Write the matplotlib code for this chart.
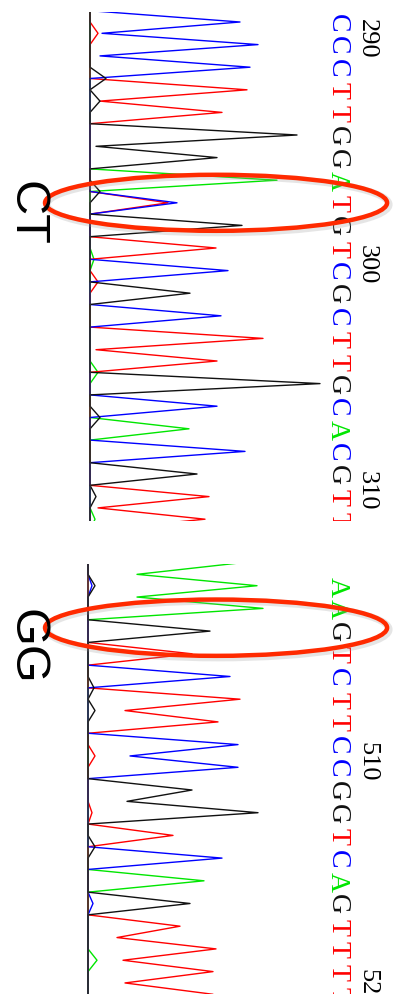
import matplotlib
matplotlib.use("Agg")
import matplotlib.pyplot as plt
import matplotlib.transforms as mtransforms
from matplotlib.patches import Ellipse

# ---- top read (CT het at 297) ----
top_seq = "CCCTTGGATGTCGCTTGCACGTT"
top_start = 289
top_ticks = [290, 300, 310]
# peak height at each base call, per dye
top_A = [0, 0, 0, 0, 0, 0, 0, 187, 0, 0, 0, 0, 0, 0, 0, 0, 0, 0, 99, 0, 0, 0, 5]
top_C = [150, 168, 160, 0, 0, 0, 0, 0, 87, 0, 0, 138, 0, 131, 0, 0, 0, 127, 0, 155, 0, 0, 0]
top_G = [0, 0, 0, 0, 0, 207, 127, 0, 0, 152, 0, 0, 100, 0, 0, 0, 230, 0, 0, 0, 107, 6, 0]
top_T = [0, 0, 0, 157, 132, 0, 0, 0, 78, 0, 126, 0, 0, 0, 173, 127, 0, 0, 0, 0, 0, 119, 115]
# signal half way between base i and i+1
top_A_mid = [0, 0, 0, 0, 0, 0, 0, 0, 0, 0, 4, 0, 0, 0, 0, 8, 0, 0, 0, 0, 0, 0]
top_C_mid = [12, 10, 0, 0, 0, 0, 0, 0, 0, 0, 0, 0, 0, 0, 0, 0, 0, 0, 0, 0, 0, 0]
top_G_mid = [0, 0, 16, 10, 0, 6, 0, 10, 0, 0, 0, 0, 0, 0, 0, 0, 0, 10, 0, 0, 0, 0]
top_T_mid = [8, 0, 0, 10, 0, 0, 0, 0, 0, 0, 0, 8, 0, 0, 6, 0, 0, 0, 0, 0, 0, 8]

# ---- bottom read (GG at 504) ----
bot_seq = "AAAGTCTTCCGGTCAGTTTT"
bot_start = 501
bot_ticks = [510, 520]
bot_A = [151, 169, 175, 0, 0, 0, 0, 0, 0, 0, 0, 0, 0, 0, 116, 0, 0, 0, 0, 0]
bot_C = [0, 4, 0, 0, 0, 142, 0, 0, 150, 150, 0, 0, 0, 134, 0, 5, 0, 0, 0, 0]
bot_G = [0, 7, 0, 122, 0, 0, 0, 0, 0, 0, 104, 170, 0, 0, 0, 102, 0, 0, 0, 0]
bot_T = [0, 0, 0, 0, 104, 0, 152, 130, 0, 0, 0, 4, 85, 0, 0, 0, 92, 128, 125, 125]
bot_A_mid = [49, 49, 0, 0, 0, 0, 0, 0, 0, 0, 0, 0, 0, 0, 0, 0, 0, 9, 0]
bot_C_mid = [0, 0, 0, 0, 0, 0, 0, 0, 42, 0, 0, 0, 0, 0, 0, 0, 0, 0, 0]
bot_G_mid = [0, 0, 0, 0, 0, 6, 7, 0, 0, 0, 39, 0, 7, 0, 0, 0, 0, 0, 0]
bot_T_mid = [0, 0, 0, 0, 0, 0, 37, 0, 7, 0, 0, 0, 0, 0, 0, 0, 29, 35, 37]

dye_colors = {"A": "#00e600", "C": "#0000ff", "G": "#111111", "T": "#ff0000"}
ring_color = "#ff2a00"


def trace(peaks, mids):
    # interleave base-call peaks with the between-base values
    pos, val = [-0.5], [0]
    for i, h in enumerate(peaks):
        pos.append(i)
        val.append(h)
        pos.append(i + 0.5)
        val.append(mids[i] if i < len(mids) else 0)
    return pos, val


def draw_read(ax, seq, start, ticks, chans, first_called, ring_base, ylims, base_px):
    ax.set_xlim(-base_px, 395 - base_px)
    ax.set_ylim(*ylims)
    ax.axis("off")
    for dye in "ATCG":
        peaks, mids = chans[dye]
        p, v = trace(peaks, mids)
        ax.plot(v, p, color=dye_colors[dye], lw=1.0, zorder=2)
    ax.axvline(0, color="#333333", lw=1.1, zorder=3)

    tr = mtransforms.blended_transform_factory(ax.transAxes, ax.transData)
    for i, b in enumerate(seq):
        if i < first_called:
            continue
        ax.text(0.855, i, b, transform=tr, rotation=-90, ha="center", va="center",
                color=dye_colors[b], fontsize=20, family="Liberation Serif", clip_on=True)
    for t in ticks:
        ax.text(0.929, t - start - 0.3, str(t), transform=tr, rotation=-90,
                ha="center", va="center", color="black", fontsize=19,
                family="Liberation Serif", clip_on=True)

    shadow = Ellipse((0.552, ring_base + 0.08), 0.866, 2.5, transform=tr, fill=False,
                     edgecolor="#999999", lw=5, alpha=0.25, zorder=4)
    ax.add_patch(shadow)
    ring = Ellipse((0.547, ring_base), 0.866, 2.48, transform=tr, fill=False,
                   edgecolor=ring_color, lw=3.2, zorder=5)
    ax.add_patch(ring)


W, H = 395, 995
fig = plt.figure(figsize=(W / 100, H / 100), dpi=100)

# top panel spans y 13..522 px, bases at 23 + 22.6*i
ax1 = fig.add_axes([0, 1 - 522 / H, 1, (522 - 13) / H])
draw_read(ax1, top_seq, top_start, top_ticks,
          {"A": (top_A, top_A_mid), "C": (top_C, top_C_mid),
           "G": (top_G, top_G_mid), "T": (top_T, top_T_mid)},
          0, 8.0, ((522 - 23) / 22.6, (13 - 23) / 22.6), 90)

# bottom panel spans y 565..995 px, bases at 564 + 22.7*i
ax2 = fig.add_axes([0, 0, 1, (995 - 565) / H])
draw_read(ax2, bot_seq, bot_start, bot_ticks,
          {"A": (bot_A, bot_A_mid), "C": (bot_C, bot_C_mid),
           "G": (bot_G, bot_G_mid), "T": (bot_T, bot_T_mid)},
          1, 2.85, ((995 - 564) / 22.7, (565 - 564) / 22.7), 88)

fig.text(26 / W, 1 - 213 / H, "CT", rotation=-90, ha="center", va="center",
         fontsize=35, family="Liberation Sans")
fig.text(26 / W, 1 - 647 / H, "GG", rotation=-90, ha="center", va="center",
         fontsize=35, family="Liberation Sans")

fig.savefig("out.png", dpi=100)
